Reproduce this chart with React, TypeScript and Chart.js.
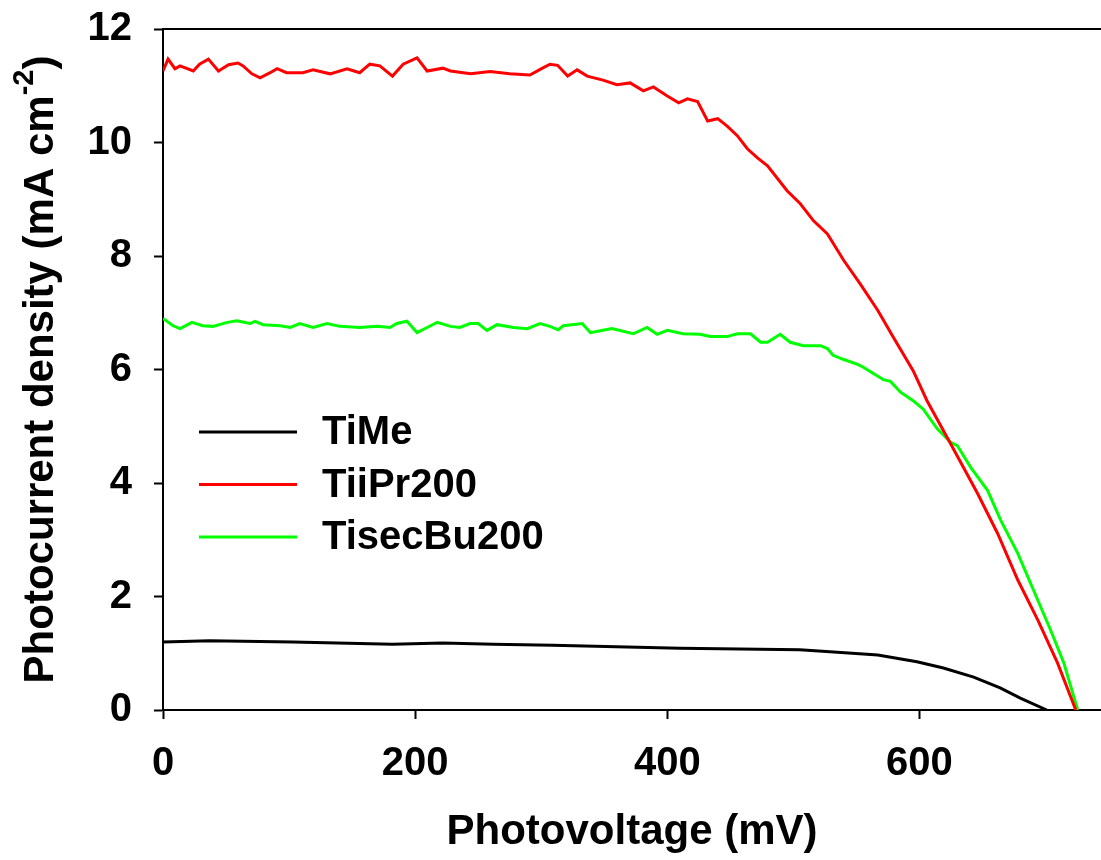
import React, { useEffect, useRef } from "react";
import { Chart, registerables } from "chart.js";

Chart.register(...registerables);

const FONT = '"Liberation Sans", Arial, Helvetica, sans-serif';

// Photovoltage (mV) / photocurrent density (mA cm-2) for each cell
const voltageTiMe = [0, 37, 103, 182, 222, 262, 309, 368, 410, 505, 532, 567, 598, 619, 643, 664, 680, 701];
const currentTiMe = [1.2, 1.22, 1.2, 1.16, 1.18, 1.16, 1.14, 1.11, 1.09, 1.06, 1.02, 0.97, 0.85, 0.74, 0.58, 0.39, 0.21, 0];

const voltageTiiPr = [
  0, 4, 9.5, 13.5, 24, 29, 36, 44, 52, 59.5, 63.5, 70.5, 77, 85, 90.5, 98, 111, 119, 132.5, 146,
  156, 164, 172, 182, 190.5, 201.5, 209.5, 222, 228, 244, 259.5, 275, 291, 301, 307, 313, 321, 328.5,
  336.5, 349, 360, 370.5, 381, 389, 400, 409, 416, 424, 432, 440, 447.5, 455.5, 463.5, 471.5, 479.5,
  495, 505.5, 516, 527, 540, 553, 567, 579.5, 595, 606, 624.5, 646, 662, 678, 694, 709.5, 724,
];
const currentTiiPr = [
  11.26, 11.47, 11.3, 11.35, 11.26, 11.38, 11.47, 11.26, 11.37, 11.4, 11.35, 11.21, 11.14, 11.23, 11.3,
  11.23, 11.23, 11.28, 11.21, 11.3, 11.23, 11.38, 11.35, 11.17, 11.38, 11.49, 11.26, 11.31, 11.26, 11.21,
  11.25, 11.21, 11.19, 11.31, 11.38, 11.36, 11.17, 11.28, 11.17, 11.1, 11.02, 11.05, 10.91, 10.98, 10.82,
  10.7, 10.77, 10.72, 10.38, 10.42, 10.29, 10.12, 9.89, 9.73, 9.59, 9.15, 8.92, 8.62, 8.39, 7.92, 7.51,
  7.04, 6.56, 5.98, 5.45, 4.7, 3.82, 3.11, 2.29, 1.58, 0.83, 0,
];

const voltageTisecBu = [
  0, 8, 13.5, 23, 31.5, 39.5, 51, 58.5, 69, 73, 79.5, 93, 101, 108.5, 119, 130, 140.5, 156, 170, 180,
  185.5, 193.5, 201.5, 209.5, 217.5, 228, 235.5, 243.5, 250, 257, 265, 278, 289, 299, 307, 313.5, 317.5,
  332.5, 339, 349, 356, 373, 384, 392, 400, 412.5, 426, 434, 447.5, 455.5, 466, 474, 479.5, 489.5, 497.5,
  508, 521.5, 527, 531.5, 539.5, 551, 555.5, 563.5, 571.5, 577, 585, 595, 603, 614, 624.5, 630, 640.5,
  654, 664.5, 678, 690.5, 704, 714.5, 725.5,
];
const currentTisecBu = [
  6.9, 6.77, 6.72, 6.83, 6.77, 6.76, 6.83, 6.86, 6.81, 6.85, 6.79, 6.77, 6.74, 6.81, 6.74, 6.81, 6.76,
  6.74, 6.76, 6.74, 6.81, 6.85, 6.65, 6.74, 6.83, 6.76, 6.74, 6.81, 6.81, 6.69, 6.79, 6.74, 6.72, 6.81,
  6.76, 6.7, 6.77, 6.81, 6.65, 6.69, 6.72, 6.63, 6.74, 6.62, 6.69, 6.63, 6.62, 6.58, 6.58, 6.63, 6.63,
  6.48, 6.48, 6.62, 6.48, 6.42, 6.42, 6.37, 6.25, 6.18, 6.09, 6.04, 5.93, 5.82, 5.79, 5.6, 5.45, 5.3,
  4.96, 4.72, 4.66, 4.28, 3.87, 3.34, 2.76, 2.11, 1.41, 0.83, 0,
];

const seriesLabels = ["TiMe", "TiiPr200", "TisecBu200"];
const seriesColors = ["#000000", "#ff0000", "#00ff00"];

const xTitle = "Photovoltage (mV)";
const yTitleMain = "Photocurrent density (mA cm";
const yTitleSup = "-2";
const yTitleEnd = ")";

const toPoints = (xs: number[], ys: number[]) => xs.map((x, i) => ({ x, y: ys[i] }));

// top frame line of the plot box
const framePlugin = {
  id: "frameTop",
  afterDraw(chart: any) {
    const { ctx, chartArea } = chart;
    ctx.save();
    ctx.strokeStyle = "#000";
    ctx.lineWidth = 2;
    ctx.beginPath();
    ctx.moveTo(chartArea.left, chartArea.top);
    ctx.lineTo(chartArea.right, chartArea.top);
    ctx.stroke();
    ctx.restore();
  },
};

// rotated y-axis title with a superscript exponent
const yTitlePlugin = {
  id: "yTitle",
  afterDraw(chart: any) {
    const { ctx, chartArea } = chart;
    const cy = (chartArea.top + chartArea.bottom) / 2;
    const big = `bold 42px ${FONT}`;
    const small = `bold 29px ${FONT}`;
    ctx.save();
    ctx.translate(53, cy);
    ctx.rotate(-Math.PI / 2);
    ctx.fillStyle = "#000";
    ctx.textBaseline = "alphabetic";
    ctx.textAlign = "left";
    ctx.font = big;
    const w1 = ctx.measureText(yTitleMain).width;
    const w3 = ctx.measureText(yTitleEnd).width;
    ctx.font = small;
    const w2 = ctx.measureText(yTitleSup).width;
    let x = -(w1 + w2 + w3) / 2;
    ctx.font = big;
    ctx.fillText(yTitleMain, x, 0);
    x += w1;
    ctx.font = small;
    ctx.fillText(yTitleSup, x, -20);
    x += w2;
    ctx.font = big;
    ctx.fillText(yTitleEnd, x, 0);
    ctx.restore();
  },
};

// legend drawn inside the plot area
const legendPlugin = {
  id: "insideLegend",
  afterDraw(chart: any) {
    const { ctx, chartArea } = chart;
    const x0 = chartArea.left + 36;
    const lineLen = 98;
    const y0 = 432;
    const gap = 52.5;
    ctx.save();
    ctx.font = `bold 40px ${FONT}`;
    ctx.textBaseline = "middle";
    ctx.textAlign = "left";
    chart.data.datasets.forEach((ds: any, i: number) => {
      const y = y0 + i * gap;
      ctx.strokeStyle = ds.borderColor;
      ctx.lineWidth = 3;
      ctx.beginPath();
      ctx.moveTo(x0, y);
      ctx.lineTo(x0 + lineLen, y);
      ctx.stroke();
      ctx.fillStyle = "#000";
      ctx.fillText(ds.label, x0 + lineLen + 25, y + 1);
    });
    ctx.restore();
  },
};

export default function App() {
  const canvasRef = useRef<HTMLCanvasElement>(null);

  useEffect(() => {
    const canvas = canvasRef.current;
    if (!canvas) return;
    const tickFont = { family: FONT, size: 40, weight: "bold" as const };
    const seriesX = [voltageTiMe, voltageTiiPr, voltageTisecBu];
    const seriesY = [currentTiMe, currentTiiPr, currentTisecBu];

    const chart = new Chart(canvas, {
      type: "line",
      data: {
        datasets: seriesLabels.map((label, i) => ({
          label,
          data: toPoints(seriesX[i], seriesY[i]),
          borderColor: seriesColors[i],
          backgroundColor: seriesColors[i],
          borderWidth: 3,
          pointRadius: 0,
          tension: 0,
          fill: false,
        })),
      },
      options: {
        animation: false,
        responsive: false,
        maintainAspectRatio: false,
        layout: { padding: { top: 29, right: 0, bottom: 0, left: 0 } },
        plugins: {
          legend: { display: false },
          tooltip: { enabled: false },
        },
        scales: {
          x: {
            type: "linear",
            position: "bottom",
            min: 0,
            max: 744,
            ticks: {
              stepSize: 200,
              includeBounds: false,
              maxRotation: 0,
              color: "#000",
              font: tickFont,
              padding: 21,
            },
            grid: {
              drawOnChartArea: false,
              drawTicks: true,
              tickLength: 9,
              tickColor: "#000",
              tickWidth: 2,
            },
            border: { display: true, color: "#000", width: 2 },
            title: {
              display: true,
              text: xTitle,
              color: "#000",
              font: { family: FONT, size: 42, weight: "bold" },
              padding: { top: 0, bottom: 2 },
            },
            afterFit: (scale: any) => {
              scale.height = 150;
            },
          },
          y: {
            type: "linear",
            min: 0,
            max: 12,
            ticks: {
              stepSize: 2,
              color: "#000",
              font: tickFont,
              padding: 22,
            },
            grid: {
              drawOnChartArea: false,
              drawTicks: true,
              tickLength: 9,
              tickColor: "#000",
              tickWidth: 2,
            },
            border: { display: true, color: "#000", width: 2 },
            afterFit: (scale: any) => {
              scale.width = 163;
              scale.paddingTop = 0;
              scale.paddingBottom = 0;
            },
          },
        },
      },
      plugins: [framePlugin, yTitlePlugin, legendPlugin],
    });

    return () => chart.destroy();
  }, []);

  return (
    <div style={{ position: "absolute", left: 0, top: 0, width: 1101, height: 860, background: "#fff" }}>
      <canvas ref={canvasRef} width={1101} height={860} style={{ display: "block" }} />
    </div>
  );
}
